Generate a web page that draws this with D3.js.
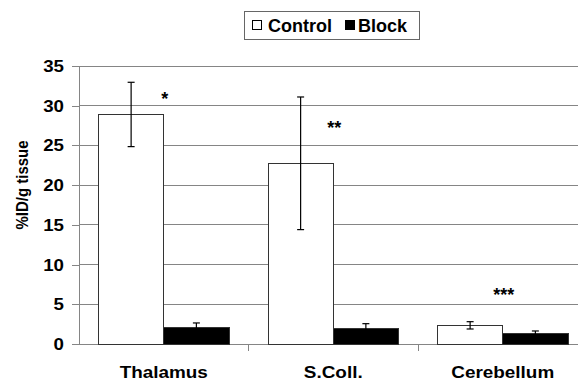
<!DOCTYPE html>
<html><head><meta charset="utf-8">
<script src="https://cdn.jsdelivr.net/npm/d3@7"></script>
<style>body{margin:0;background:#fff}svg{display:block}text{font-family:"Liberation Sans",Arial,sans-serif;font-weight:bold}</style>
</head><body><svg id="c" width="578" height="381"></svg>
<script>
const categories = ["Thalamus", "S.Coll.", "Cerebellum"];
const seriesNames = ["Control", "Block"];
const controlValues = [28.9, 22.75, 2.35];
const controlErrors = [4.05, 8.35, 0.46];
const blockValues = [2.1, 1.89, 1.26];
const blockErrors = [0.55, 0.67, 0.38];
const sigLabels = ["*", "**", "***"];
const sigPositions = [30.1, 26.5, 5.4];
const yTicks = [0, 5, 10, 15, 20, 25, 30, 35];
const yLabel = "%ID/g tissue";

const svg = d3.select("#c");
const x = d3.scaleBand().domain(categories).range([79, 587.5]);
const xs = d3.scaleBand().domain(seriesNames).range([19.5, x.bandwidth() - 19.5]);
const y = d3.scaleLinear().domain([0, 35]).range([344, 66]);
const fills = {Control: "#fff", Block: "#000"};

// gridlines
svg.append("g").selectAll("line").data(yTicks.filter(d => d > 0)).join("line")
  .attr("x1", 79).attr("x2", 578).attr("y1", d => y(d)).attr("y2", d => y(d))
  .attr("stroke", "#858585").attr("stroke-width", 1).attr("shape-rendering", "crispEdges");

// y axis
const yAxis = d3.axisLeft(y).tickValues(yTicks).tickSize(7).tickPadding(8);
const gy = svg.append("g").attr("transform", "translate(79,0)").call(yAxis);
gy.select(".domain").attr("stroke", "#858585").attr("shape-rendering", "crispEdges");
gy.selectAll(".tick line").attr("stroke", "#858585").attr("shape-rendering", "crispEdges");
gy.selectAll(".tick text").attr("fill", "#000").attr("font-size", 17)
  .attr("font-family", "Liberation Sans, Arial, sans-serif").attr("font-weight", "bold")
  .attr("transform", "translate(-15,0) scale(1.1,1)").attr("x", 0);

// x axis
const xAxis = d3.axisBottom(x).tickSize(0).tickFormat("");
const gx = svg.append("g").attr("transform", "translate(0,344)").call(xAxis);
gx.select(".domain").attr("stroke", "#858585").attr("shape-rendering", "crispEdges");
svg.append("g").selectAll("line").data(categories.slice(1)).join("line")
  .attr("x1", d => x(d)).attr("x2", d => x(d)).attr("y1", 344).attr("y2", 351)
  .attr("stroke", "#858585").attr("shape-rendering", "crispEdges");

// category labels
svg.append("g").selectAll("text").data(categories).join("text")
  .attr("transform", d => `translate(${x(d) + x.bandwidth() / 2},377.5) scale(1.16,1)`)
  .attr("text-anchor", "middle").attr("font-size", 16.3).text(d => d);

// bars
const rows = [];
categories.forEach((c, i) => {
  rows.push({cat: c, s: "Control", v: controlValues[i], e: controlErrors[i]});
  rows.push({cat: c, s: "Block", v: blockValues[i], e: blockErrors[i]});
});
svg.append("g").selectAll("rect").data(rows).join("rect")
  .attr("x", d => x(d.cat) + xs(d.s)).attr("width", xs.bandwidth())
  .attr("y", d => y(d.v)).attr("height", d => y(0) - y(d.v))
  .attr("fill", d => fills[d.s]).attr("stroke", "#333").attr("stroke-width", 1)
  .attr("shape-rendering", "crispEdges");

// error bars
const eg = svg.append("g").attr("stroke", "#000").attr("stroke-width", 1.2);
rows.forEach(d => {
  const cx = x(d.cat) + xs(d.s) + xs.bandwidth() / 2;
  eg.append("line").attr("x1", cx).attr("x2", cx).attr("y1", y(d.v + d.e)).attr("y2", y(d.v - d.e));
  eg.append("line").attr("x1", cx - 3.5).attr("x2", cx + 3.5).attr("y1", y(d.v + d.e)).attr("y2", y(d.v + d.e));
  if (d.s === "Control") eg.append("line").attr("x1", cx - 3.5).attr("x2", cx + 3.5).attr("y1", y(d.v - d.e)).attr("y2", y(d.v - d.e));
});

// significance
svg.append("g").selectAll("text").data(categories).join("text")
  .attr("x", d => x(d) + x.bandwidth() / 2 + 1).attr("y", (d, i) => y(sigPositions[i]))
  .attr("text-anchor", "middle").attr("font-size", 18).text((d, i) => sigLabels[i]);

// y label
svg.append("text").attr("transform", "translate(27.5,185) scale(1.15,1) rotate(-90)")
  .attr("text-anchor", "middle").attr("font-size", 15).text(yLabel);

// legend
const lg = svg.append("g");
lg.append("rect").attr("x", 244.5).attr("y", 11.5).attr("width", 175).attr("height", 28)
  .attr("fill", "#fff").attr("stroke", "#666").attr("stroke-width", 1);
const legX = {Control: 252, Block: 345};
seriesNames.forEach(s => {
  lg.append("rect").attr("x", legX[s] + 0.5).attr("y", 20.5).attr("width", 9).attr("height", 9)
    .attr("fill", fills[s]).attr("stroke", "#000").attr("stroke-width", 1);
  lg.append("text").attr("x", legX[s] + (s === "Control" ? 16 : 13)).attr("y", 32)
    .attr("font-size", 18).text(s);
});
</script></body></html>
